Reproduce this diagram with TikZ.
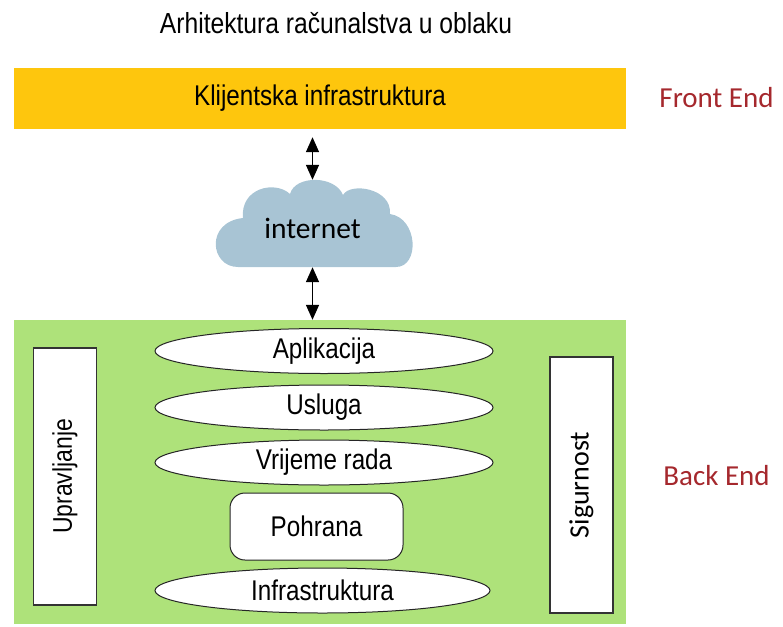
\documentclass[tikz,border=0pt]{standalone}
\usepackage{fontspec}
\usepackage{tikz}
\usetikzlibrary{shapes.geometric,arrows.meta}
\newfontfamily\narrowsf{Liberation Sans}[FakeStretch=0.85]
\newfontfamily\calibrisf{Carlito}
\definecolor{barYellow}{RGB}{254, 198, 13}
\definecolor{backGreen}{RGB}{174, 226, 122}
\definecolor{cloudBlue}{RGB}{168, 196, 212}
\definecolor{endRed}{RGB}{165, 40, 45}

\begin{document}
\begin{tikzpicture}[x=1pt,y=1pt,yscale=-1,xscale=1,
  band/.style={draw=none, minimum width=612, inner sep=0},
  layer/.style={ellipse, draw=black!85, line width=1pt, fill=white, minimum width=338, minimum height=45, inner sep=0, font=\narrowsf\fontsize{28.5}{30}\selectfont},
  sidebox/.style={rectangle, draw=black!80, line width=1.2pt, fill=white, rotate=90, minimum height=63, inner sep=0, font=\fontsize{27}{30}\selectfont},
  endlabel/.style={text=endRed, inner sep=0.75pt, font=\calibrisf\fontsize{29}{32}\selectfont},
  biarrow/.style={{Triangle[length=15pt,width=13pt]}-{Triangle[length=15pt,width=13pt]}, line width=1.5pt}]
\useasboundingbox (0,0) rectangle (783,626);

% Text Node
\node (title) at (336,23) [inner sep=0.75pt, font=\narrowsf\fontsize{29}{30}\selectfont] {Arhitektura računalstva u oblaku};

%Shape: Rectangle
\node (front) at (320,98.5) [band, fill=barYellow, minimum height=61, font=\narrowsf\fontsize{28.5}{30}\selectfont] {Klijentska infrastruktura};
%Shape: Rectangle
\node (back) at (320,472) [band, fill=backGreen, minimum height=304] {};

%Shape: Cloud
\fill [cloudBlue] (238,267) -- (396,267) .. controls (420,267) and (418,218) .. (390,214)
  .. controls (392,188) and (350,182) .. (343,195)
  .. controls (335,175) and (295,175) .. (290,194)
  .. controls (275,180) and (240,188) .. (243,218)
  .. controls (205,222) and (210,267) .. (238,267) -- cycle;
\node (inet) at (312.5,223.5) [minimum width=200, minimum height=87, inner sep=0, text height=29pt, text depth=0pt, font=\calibrisf\fontsize{29.5}{32}\selectfont] {internet};

%Straight Lines
\draw [biarrow, shorten <=8pt] (front.south -| inet.north) -- (inet.north);
%Straight Lines
\draw [biarrow] (inet.south) -- (inet.south |- back.north);

%Shape: Ellipse
\node (apl) at (324,351) [layer] {Aplikacija};
%Shape: Ellipse
\node (usl) at (324,407.5) [layer] {Usluga};
%Shape: Ellipse
\node (vrr) at (324,462.5) [layer] {Vrijeme rada};
%Shape: Rounded Rect
\node (poh) at (316.5,526.5) [rectangle, rounded corners=15pt, draw=black!85, line width=1pt, fill=white, minimum width=173, minimum height=67, inner sep=0, font=\narrowsf\fontsize{28.5}{30}\selectfont] {Pohrana};
%Shape: Ellipse
\node (inf) at (322.5,590.5) [layer, minimum width=335] {Infrastruktura};

%Shape: Rectangle
\node (upr) at (65,476.5) [sidebox, minimum width=257, font=\narrowsf\fontsize{27}{30}\selectfont] {Upravljanje};
%Shape: Rectangle
\node (sig) at (581.5,485) [sidebox, minimum width=256, font=\calibrisf\fontsize{28}{30}\selectfont] {Sigurnost};

% Text Node
\node (fe) at (716.5,98) [endlabel] {Front End};
% Text Node
\node (be) at (716.5,476) [endlabel] {Back End};

\end{tikzpicture}
\end{document}
